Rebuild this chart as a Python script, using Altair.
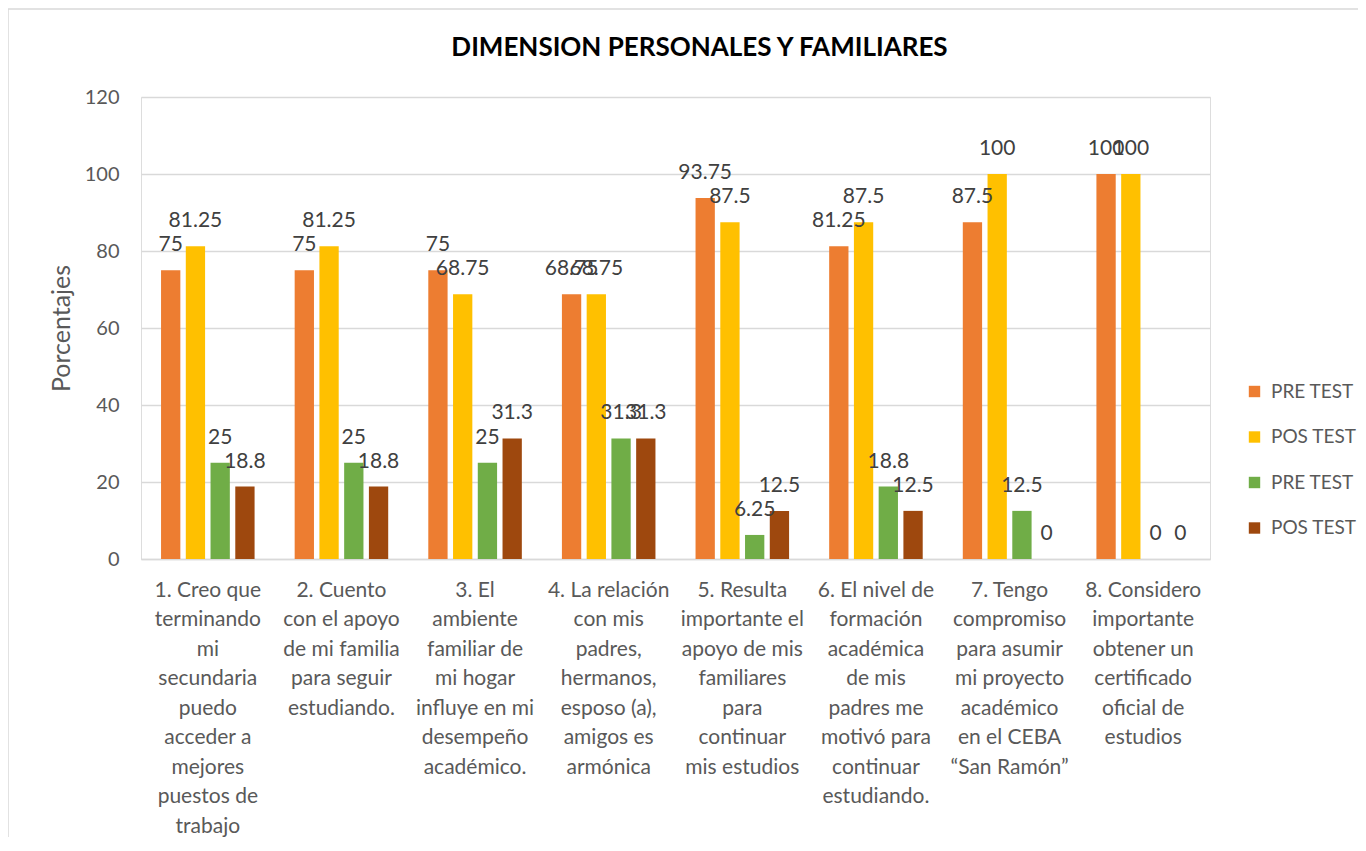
import altair as alt
import pandas as pd

categories = [
    "1. Creo que|terminando|mi|secundaria|puedo|acceder a|mejores|puestos de|trabajo",
    "2. Cuento|con el apoyo|de mi familia|para seguir|estudiando.",
    "3. El|ambiente|familiar de|mi hogar|influye en mi|desempeño|académico.",
    "4. La relación|con mis|padres,|hermanos,|esposo (a),|amigos es|armónica",
    "5. Resulta|importante el|apoyo de mis|familiares|para|continuar|mis estudios",
    "6. El nivel de|formación|académica|de mis|padres me|motivó para|continuar|estudiando.",
    "7. Tengo|compromiso|para asumir|mi proyecto|académico|en el CEBA|“San Ramón”",
    "8. Considero|importante|obtener un|certificado|oficial de|estudios",
]
series_names = ["1 PRE TEST", "2 POS TEST", "3 PRE TEST", "4 POS TEST"]
pre_test_1 = [75, 75, 75, 68.75, 93.75, 81.25, 87.5, 100]
pos_test_1 = [81.25, 81.25, 68.75, 68.75, 87.5, 87.5, 100, 100]
pre_test_2 = [25, 25, 25, 31.3, 6.25, 18.8, 12.5, 0]
pos_test_2 = [18.8, 18.8, 31.3, 31.3, 12.5, 12.5, 0, 0]
colors = ["#ED7D31", "#FFC000", "#70AD47", "#9E480E"]
y_ticks = [0, 20, 40, 60, 80, 100, 120]

rows = []
for s, vals in zip(series_names, [pre_test_1, pos_test_1, pre_test_2, pos_test_2]):
    for c, v in zip(categories, vals):
        rows.append({"cat": c, "serie": s, "value": v})
df = pd.DataFrame(rows)

FONT = "Lato"
W, H = 1069, 462

x_enc = alt.X(
    "cat:N",
    sort=categories,
    scale=alt.Scale(paddingInner=0.3, paddingOuter=0.15),
    axis=alt.Axis(
        title=None,
        labelAngle=0,
        labelExpr="split(datum.label, '|')",
        labelFont=FONT,
        labelFontSize=21,
        labelColor="#595959",
        labelLineHeight=29.5,
        labelPadding=20,
        labelBaseline="top",
        labelLimit=300,
        ticks=False,
        domainColor="#D9D9D9",
        domainWidth=1.5,
        grid=False,
    ),
)
xoff = alt.XOffset(
    "serie:N",
    sort=series_names,
    scale=alt.Scale(paddingInner=0.22, paddingOuter=0),
)
y_enc = alt.Y(
    "value:Q",
    scale=alt.Scale(domain=[0, 120], nice=False),
    axis=alt.Axis(
        title="Porcentajes",
        titleFont=FONT,
        titleFontSize=25,
        titleFontWeight="normal",
        titleColor="#595959",
        titlePadding=10,
        values=y_ticks,
        labelFont=FONT,
        labelFontSize=20,
        labelColor="#595959",
        labelPadding=22,
        ticks=False,
        domain=False,
        grid=True,
        gridColor="#D9D9D9",
        gridWidth=1.5,
    ),
)

bars = alt.Chart(df).mark_bar().encode(
    x=x_enc,
    xOffset=xoff,
    y=y_enc,
    color=alt.Color(
        "serie:N",
        sort=series_names,
        scale=alt.Scale(domain=series_names, range=colors),
        legend=alt.Legend(
            title=None,
            orient="none",
            legendX=1104,
            legendY=285,
            symbolType="square",
            symbolSize=130,
            symbolStrokeWidth=0,
            labelFont=FONT,
            labelFontSize=19,
            labelColor="#595959",
            labelExpr="substring(datum.label, 2)",
            rowPadding=25.5,
            labelOffset=7,
            labelLimit=200,
        ),
    ),
)

labels = alt.Chart(df).mark_text(
    baseline="middle", align="center", dy=-25, font=FONT, fontSize=21, color="#404040"
).encode(
    x=alt.X("cat:N", sort=categories),
    xOffset=alt.XOffset("serie:N", sort=series_names),
    y="value:Q",
    text=alt.Text("value:Q", format="~g"),
)

frame = alt.Chart(pd.DataFrame({"k": [0]})).mark_rect(
    fill=None, stroke="#D9D9D9", strokeWidth=1.5
).encode(
    x=alt.value(-133), x2=alt.value(1240), y=alt.value(-88), y2=alt.value(800)
)

chart = (
    alt.layer(frame, bars, labels)
    .properties(
        width=W,
        height=H,
        autosize=alt.AutoSizeParams(type="none"),
        padding={"left": 133, "top": 89, "right": 148, "bottom": 278},
        title=alt.Title(
            "DIMENSION PERSONALES Y FAMILIARES",
            font=FONT,
            fontSize=26,
            fontWeight="bold",
            color="#000000",
            anchor="middle",
            dx=24,
            offset=-53,
        ),
    )
    .configure_view(stroke=None)
    .configure(background="white")
)

chart.save("out.html", embed_options={"renderer": "svg", "actions": False})
